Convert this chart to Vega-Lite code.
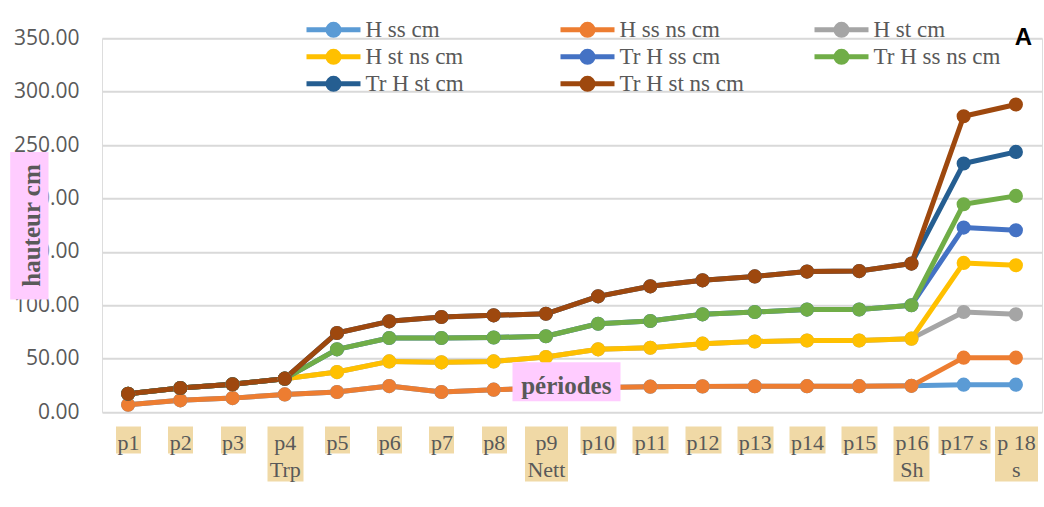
{
  "$schema": "https://vega.github.io/schema/vega-lite/v6.json",
  "width": 940,
  "height": 373.7,
  "autosize": {"type": "none"},
  "padding": {"left": 102, "top": 38.3, "right": 2, "bottom": 95},
  "background": "white",
  "title": {
    "text": "A",
    "orient": "top",
    "anchor": "end",
    "frame": "group",
    "offset": -32,
    "dx": -10,
    "font": "Liberation Sans",
    "fontWeight": "bold",
    "fontSize": 24,
    "color": "#000000"
  },
  "data": {
    "values": [
      {"periode": "p1", "H ss cm": 6.8, "H ss ns cm": 6.8, "H st cm": 17.0, "H st ns  cm": 17.0, "Tr H ss cm": 17.0, "Tr H ss ns cm": 17.0, "Tr H st  cm": 17.0, "Tr H st ns cm": 17.0},
      {"periode": "p2", "H ss cm": 10.9, "H ss ns cm": 10.9, "H st cm": 22.5, "H st ns  cm": 22.5, "Tr H ss cm": 22.5, "Tr H ss ns cm": 22.5, "Tr H st  cm": 22.5, "Tr H st ns cm": 22.5},
      {"periode": "p3", "H ss cm": 13.0, "H ss ns cm": 13.0, "H st cm": 26.0, "H st ns  cm": 26.0, "Tr H ss cm": 26.0, "Tr H ss ns cm": 26.0, "Tr H st  cm": 26.0, "Tr H st ns cm": 26.0},
      {"periode": "p4\nTrp", "H ss cm": 16.5, "H ss ns cm": 16.5, "H st cm": 31.2, "H st ns  cm": 31.2, "Tr H ss cm": 31.2, "Tr H ss ns cm": 31.2, "Tr H st  cm": 31.2, "Tr H st ns cm": 31.2},
      {"periode": "p5", "H ss cm": 18.7, "H ss ns cm": 18.7, "H st cm": 37.4, "H st ns  cm": 37.4, "Tr H ss cm": 58.7, "Tr H ss ns cm": 58.7, "Tr H st  cm": 74.0, "Tr H st ns cm": 74.0},
      {"periode": "p6", "H ss cm": 24.3, "H ss ns cm": 24.3, "H st cm": 47.4, "H st ns  cm": 47.4, "Tr H ss cm": 69.3, "Tr H ss ns cm": 69.3, "Tr H st  cm": 84.9, "Tr H st ns cm": 84.9},
      {"periode": "p7", "H ss cm": 18.7, "H ss ns cm": 18.7, "H st cm": 46.5, "H st ns  cm": 46.5, "Tr H ss cm": 69.3, "Tr H ss ns cm": 69.3, "Tr H st  cm": 89.0, "Tr H st ns cm": 89.0},
      {"periode": "p8", "H ss cm": 20.9, "H ss ns cm": 20.9, "H st cm": 47.4, "H st ns  cm": 47.4, "Tr H ss cm": 69.8, "Tr H ss ns cm": 69.8, "Tr H st  cm": 90.5, "Tr H st ns cm": 90.5},
      {"periode": "p9\nNett", "H ss cm": 22.0, "H ss ns cm": 22.0, "H st cm": 51.5, "H st ns  cm": 51.5, "Tr H ss cm": 70.9, "Tr H ss ns cm": 70.9, "Tr H st  cm": 92.0, "Tr H st ns cm": 92.0},
      {"periode": "p10", "H ss cm": 23.0, "H ss ns cm": 23.0, "H st cm": 58.7, "H st ns  cm": 58.7, "Tr H ss cm": 82.7, "Tr H ss ns cm": 82.7, "Tr H st  cm": 108.3, "Tr H st ns cm": 108.3},
      {"periode": "p11", "H ss cm": 23.7, "H ss ns cm": 23.7, "H st cm": 60.2, "H st ns  cm": 60.2, "Tr H ss cm": 85.2, "Tr H ss ns cm": 85.2, "Tr H st  cm": 117.7, "Tr H st ns cm": 117.7},
      {"periode": "p12", "H ss cm": 24.0, "H ss ns cm": 24.0, "H st cm": 64.0, "H st ns  cm": 64.0, "Tr H ss cm": 91.5, "Tr H ss ns cm": 91.5, "Tr H st  cm": 123.3, "Tr H st ns cm": 123.3},
      {"periode": "p13", "H ss cm": 24.1, "H ss ns cm": 24.1, "H st cm": 66.0, "H st ns  cm": 66.0, "Tr H ss cm": 93.7, "Tr H ss ns cm": 93.7, "Tr H st  cm": 127.0, "Tr H st ns cm": 127.0},
      {"periode": "p14", "H ss cm": 24.2, "H ss ns cm": 24.2, "H st cm": 67.0, "H st ns  cm": 67.0, "Tr H ss cm": 95.9, "Tr H ss ns cm": 95.9, "Tr H st  cm": 131.5, "Tr H st ns cm": 131.5},
      {"periode": "p15", "H ss cm": 24.2, "H ss ns cm": 24.2, "H st cm": 67.0, "H st ns  cm": 67.0, "Tr H ss cm": 96.0, "Tr H ss ns cm": 96.0, "Tr H st  cm": 132.0, "Tr H st ns cm": 132.0},
      {"periode": "p16\nSh", "H ss cm": 24.5, "H ss ns cm": 24.5, "H st cm": 68.7, "H st ns  cm": 68.7, "Tr H ss cm": 100.0, "Tr H ss ns cm": 100.0, "Tr H st  cm": 139.0, "Tr H st ns cm": 139.0},
      {"periode": "p17 s", "H ss cm": 25.6, "H ss ns cm": 50.9, "H st cm": 93.7, "H st ns  cm": 139.6, "Tr H ss cm": 172.7, "Tr H ss ns cm": 194.6, "Tr H st  cm": 232.7, "Tr H st ns cm": 277.0},
      {"periode": "p 18\ns", "H ss cm": 25.6, "H ss ns cm": 50.9, "H st cm": 91.5, "H st ns  cm": 137.4, "Tr H ss cm": 170.2, "Tr H ss ns cm": 202.4, "Tr H st  cm": 243.6, "Tr H st ns cm": 288.0}
    ]
  },
  "transform": [
    {
      "fold": ["H ss cm", "H ss ns cm", "H st cm", "H st ns  cm", "Tr H ss cm", "Tr H ss ns cm", "Tr H st  cm", "Tr H st ns cm"],
      "as": ["serie", "hauteur"]
    }
  ],
  "layer": [
    {
      "mark": {"type": "line", "strokeWidth": 5, "strokeJoin": "round"},
      "encoding": {
        "x": {
          "field": "periode",
          "type": "ordinal",
          "sort": null,
          "axis": {
            "orient": "bottom",
            "title": null,
            "domain": false,
            "grid": false,
            "offset": 14,
            "ticks": true,
            "tickColor": "#f0d9a6",
            "tickWidth": {
              "condition": [
                {"test": "datum.value == 'p17 s'", "value": 52},
                {"test": "indexof(datum.value, '18') >= 0 || indexof(datum.value, 'Nett') >= 0", "value": 43},
                {"test": "length(datum.value) == 2", "value": 25}
              ],
              "value": 36
            },
            "tickSize": {"condition": {"test": "indexof(datum.value, '\\n') >= 0", "value": 55}, "value": 27},
            "labelPadding": {"condition": {"test": "indexof(datum.value, '\\n') >= 0", "value": -49}, "value": -21},
            "labelExpr": "split(datum.label, '\\n')",
            "labelAngle": 0,
            "labelBaseline": "top",
            "labelFont": "Liberation Serif",
            "labelFontSize": 22,
            "labelLineHeight": 27,
            "labelColor": "#595959",
            "labelOverlap": false,
            "labelFlush": false,
            "labelBound": false,
            "zindex": 0
          }
        },
        "y": {
          "field": "hauteur",
          "type": "quantitative",
          "scale": {"domain": [0, 350], "nice": false, "zero": true},
          "axis": {
            "orient": "left",
            "values": [0, 50, 100, 150, 200, 250, 300, 350],
            "format": ".2f",
            "title": null,
            "domain": false,
            "ticks": false,
            "grid": true,
            "gridColor": "#d9d9d9",
            "gridWidth": 2,
            "labelFont": "Open Sans",
            "labelFontSize": 21,
            "labelColor": "#595959",
            "labelPadding": 23,
            "labelBaseline": "middle",
            "zindex": 0
          }
        },
        "color": {
          "field": "serie",
          "type": "nominal",
          "scale": {
            "domain": ["H ss cm", "H ss ns cm", "H st cm", "H st ns  cm", "Tr H ss cm", "Tr H ss ns cm", "Tr H st  cm", "Tr H st ns cm"],
            "range": ["#5b9bd5", "#ed7d31", "#a5a5a5", "#ffc000", "#4472c4", "#70ad47", "#255e91", "#9e480e"]
          },
          "legend": {
            "orient": "none",
            "direction": "horizontal",
            "legendX": 220,
            "legendY": -20,
            "columns": 3,
            "title": null,
            "gridAlign": "all",
            "columnPadding": 57,
            "rowPadding": -4,
            "symbolType": "M-3.6,0H3.6M0.733,0A0.733,0.733,0,1,1,-0.733,0A0.733,0.733,0,1,1,0.733,0M0.4,0A0.4,0.4,0,1,1,-0.4,0A0.4,0.4,0,1,1,0.4,0M0.107,0A0.107,0.107,0,1,1,-0.107,0A0.107,0.107,0,1,1,0.107,0",
            "symbolSize": 225,
            "symbolStrokeWidth": 5,
            "labelFont": "Liberation Serif",
            "labelFontSize": 23,
            "labelColor": "#595959",
            "labelOffset": 20.5,
            "labelLimit": 300
          }
        }
      }
    },
    {
      "mark": {"type": "circle", "size": 200, "opacity": 1},
      "encoding": {
        "x": {
          "field": "periode",
          "type": "ordinal",
          "sort": null,
          "axis": {
            "orient": "bottom",
            "values": ["p9\nNett"],
            "labels": false,
            "domain": false,
            "grid": false,
            "ticks": true,
            "tickColor": "#ffccff",
            "tickWidth": 108,
            "tickSize": 39,
            "tickOffset": 20.2,
            "offset": -50.3,
            "title": "périodes",
            "titleFont": "Liberation Serif",
            "titleFontWeight": "bold",
            "titleFontSize": 25,
            "titleColor": "#595959",
            "titleX": 463.8,
            "titleY": 32,
            "titleAlign": "center",
            "titleBaseline": "alphabetic",
            "titleAngle": 0,
            "zindex": 2
          }
        },
        "y": {
          "field": "hauteur",
          "type": "quantitative",
          "axis": {
            "orient": "left",
            "values": [174.7],
            "labels": false,
            "domain": false,
            "grid": false,
            "ticks": true,
            "tickColor": "#ffccff",
            "tickWidth": 147.6,
            "tickSize": 38.3,
            "offset": 54,
            "title": "hauteur cm",
            "titleFont": "Liberation Serif",
            "titleFontWeight": "bold",
            "titleFontSize": 25,
            "titleColor": "#595959",
            "titleAngle": 270,
            "titleX": -9,
            "titleY": 186.7,
            "titleAlign": "center",
            "titleBaseline": "alphabetic",
            "zindex": 2
          }
        },
        "color": {"field": "serie", "type": "nominal", "legend": null}
      }
    }
  ],
  "resolve": {"axis": {"x": "independent", "y": "independent"}}
}
